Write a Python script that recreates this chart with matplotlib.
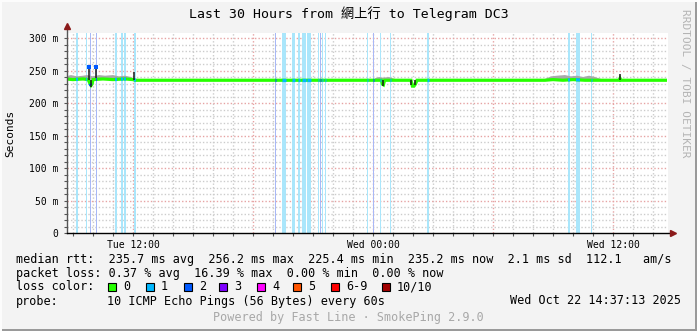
import numpy as np
import matplotlib.pyplot as plt
from matplotlib.patches import Rectangle

# time axis: hours since Tue 00:00, window = last 30 hours up to Wed 14:37
t_start, t_end = 8.70, 38.75
tick_hours = [12, 24, 36]
tick_labels = ["Tue 12:00", "Wed 00:00", "Wed 12:00"]

# median rtt (ms)
median_t = [8.65, 9.0, 9.5, 9.76, 9.86, 9.90, 9.95, 10.0, 10.5, 11.0, 11.6, 12.0,
            12.1, 12.2, 19.0, 24.42, 24.47, 24.52, 24.58, 25.9, 25.97, 26.05,
            26.12, 26.2, 32.6, 33.0, 33.5, 34.0, 34.6, 35.3, 36.3, 36.35, 36.4, 38.62]
median_ms = [237, 236, 237, 236, 229, 227, 229, 236, 237, 236, 237, 236,
             235, 235, 235, 235, 229, 228, 235, 235, 226, 226,
             229, 235, 235, 236, 235, 236, 235, 235, 235, 238, 235, 235]

# smoke (spread of the 10 pings)
smoke_t = [8.65, 8.9, 9.2, 9.5, 9.7, 10.0, 10.3, 10.6, 11.0, 11.3, 11.6, 11.9, 12.1,
           np.nan, 24.1, 24.3, 24.5, 24.8, 25.1,
           np.nan, 32.6, 32.9, 33.2, 33.6, 33.9, 34.2, 34.5, 34.8, 35.1, 35.4]
smoke_lo = [236, 236, 236, 236, 236, 236, 236, 236, 236, 236, 236, 236, 236,
            np.nan, 236, 236, 236, 236, 236,
            np.nan, 236, 236, 236, 236, 236, 236, 236, 236, 236, 236]
smoke_hi = [241, 243, 241, 242, 243, 241, 243, 242, 243, 241, 242, 240, 237,
            np.nan, 238, 240, 239, 240, 237,
            np.nan, 237, 241, 242, 243, 241, 242, 240, 242, 240, 237]

# single outlier pings drawn dark
spike_t = [9.79, 9.90, 10.15, 12.05, 24.50, 25.92, 26.12, 36.35]
spike_lo = [236, 225, 238, 236, 226, 227, 227, 235]
spike_hi = [256, 236, 256, 248, 236, 235, 235, 245]
spike_loss = [1, 0, 1, 0, 0, 0, 0, 0]

# packet loss events: start hour, end hour, lost pings out of 10
loss_t0 = [9.15, 9.65, 9.85, 10.15, 11.10, 11.40, 11.55, 12.05, 19.10, 19.45, 19.95,
           20.25, 20.45, 20.70, 21.25, 21.35, 21.45, 21.60, 23.70, 24.00, 24.35,
           24.85, 26.70, 33.75, 34.15, 34.90]
loss_t1 = [9.25, 9.70, 9.90, 10.20, 11.20, 11.50, 11.65, 12.15, 19.15, 19.65, 20.10,
           20.35, 20.65, 20.90, 21.30, 21.40, 21.50, 21.65, 23.75, 24.05, 24.40,
           24.90, 26.80, 33.85, 34.35, 34.95]
loss_n = [1, 1, 2, 2, 1, 1, 1, 1, 2, 1, 1,
          1, 1, 1, 1, 2, 1, 1, 1, 2, 1,
          1, 1, 1, 1, 1]

loss_names = ["0", "1", "2", "3", "4", "5", "6-9", "10/10"]
loss_colors = ["#26ff00", "#00b8ff", "#0059ff", "#7e00ff", "#ff00ff", "#ff5500", "#ff0000", "#a10000"]
loss_bg = {1: "#aae6fb", 2: "#a8b8f6"}

W, H = 697, 331
BG = "#f3f3f3"
MONO = "DejaVu Sans Mono"

fig = plt.figure(figsize=(W / 100, H / 100), dpi=100, facecolor=BG)


def fx(px):
    return px / W


def fy(py):
    return 1 - py / H


ax = fig.add_axes([fx(67), fy(233), (668 - 67) / W, 200 / H])
ax.set_facecolor("white")
ax.set_xlim(t_start, t_end)
ax.set_ylim(0, 307.7)

# grid
for h in np.arange(9, 39):
    major = (h % 6 == 0)
    ax.axvline(h, color="#e6a3a3" if major else "#cccccc", lw=1,
               ls=(0, (1, 1.5)), zorder=1)
for v in range(10, 310, 10):
    major = (v % 50 == 0)
    ax.axhline(v, color="#e6a3a3" if major else "#cccccc", lw=1,
               ls=(0, (1, 1.5)), zorder=1)

# loss background bars
for a, b, n in zip(loss_t0, loss_t1, loss_n):
    ax.axvspan(a, b, color=loss_bg[n], lw=0, zorder=2)

# smoke
ax.fill_between(smoke_t, smoke_lo, smoke_hi, color="#a9a9a9", lw=0, zorder=3)

# median line
ax.plot(median_t, median_ms, color=loss_colors[0], lw=2.3, zorder=5,
        solid_joinstyle="miter")
for a, b, n in zip(loss_t0, loss_t1, loss_n):
    y = np.interp([a, b], median_t, median_ms)
    ax.plot([a, b], y, color=loss_colors[n], lw=2.3, zorder=6,
            solid_capstyle="butt")

ax.vlines(spike_t, spike_lo, spike_hi, color="#1a1a1a", lw=1.1, zorder=7)
for st, sh, sl in zip(spike_t, spike_hi, spike_loss):
    if sl:
        ax.plot([st], [sh - 1], marker="s", ms=2.2, mew=0, color=loss_colors[2], zorder=8)

# axes look
for s in ax.spines.values():
    s.set_visible(False)
ax.plot([0, 0], [0, 1.03], transform=ax.transAxes, color="#555555", lw=1,
        clip_on=False, zorder=9)
ax.plot([0, 1.008], [0, 0], transform=ax.transAxes, color="black", lw=1,
        clip_on=False, zorder=9)
ax.plot([0], [1.035], transform=ax.transAxes, marker="^", ms=5, color="#8b1a1a",
        clip_on=False, zorder=10)
ax.plot([1.008], [0], transform=ax.transAxes, marker=">", ms=5, color="#8b1a1a",
        clip_on=False, zorder=10)

ax.set_yticks(range(0, 301, 50))
ax.set_yticklabels(["0"] + ["%d m" % v for v in range(50, 301, 50)],
                   fontsize=7, family=MONO)
ax.set_yticks(range(0, 301, 10), minor=True)
ax.set_xticks(tick_hours)
ax.set_xticklabels(tick_labels, fontsize=7, family=MONO)
ax.set_xticks(np.arange(9, 39), minor=True)
ax.tick_params(axis="both", which="both", length=2, width=0.8, color="#555555", pad=4)
ax.tick_params(axis="x", which="major", pad=3)

# title and labels
fig.text(fx(348.5), fy(14), "Last 30 Hours from 網上行 to Telegram DC3",
         ha="center", va="center", fontsize=9.5,
         family=[MONO, "Noto Sans CJK TC"])
fig.text(fx(10), fy(133), "Seconds", rotation=90, ha="center", va="center",
         fontsize=8, family=MONO)
fig.text(fx(685), fy(83), "RRDTOOL / TOBI OETIKER", rotation=270, ha="center",
         va="center", fontsize=8, family=MONO, color="#b4b4b4")

# legend
rows = [
    "median rtt:  235.7 ms avg  256.2 ms max  225.4 ms min  235.2 ms now  2.1 ms sd  112.1   am/s",
    "packet loss: 0.37 % avg  16.39 % max  0.00 % min  0.00 % now",
]
for i, r in enumerate(rows):
    fig.text(fx(16), fy(259 + 14 * i), r, ha="left", va="center", fontsize=8.5,
             family=MONO)

fig.text(fx(16), fy(287), "loss color:", ha="left", va="center", fontsize=8.5,
         family=MONO)
swatch_x = [108, 146, 184, 219, 257, 293, 331, 382]
for sx, name, c in zip(swatch_x, loss_names, loss_colors):
    fig.patches.append(Rectangle((fx(sx), fy(291)), 8 / W, 8 / H,
                                 transform=fig.transFigure, facecolor=c,
                                 edgecolor="black", lw=0.8))
    fig.text(fx(sx + 15), fy(287), name, ha="left", va="center", fontsize=8.5,
             family=MONO)

fig.text(fx(16), fy(301), "probe:", ha="left", va="center", fontsize=8.5, family=MONO)
fig.text(fx(107), fy(301), "10 ICMP Echo Pings (56 Bytes) every 60s", ha="left",
         va="center", fontsize=8.5, family=MONO)
fig.text(fx(681), fy(301), "Wed Oct 22 14:37:13 2025", ha="right", va="center",
         fontsize=8.5, family=MONO)
fig.text(fx(348.5), fy(318), "Powered by Fast Line · SmokePing 2.9.0", ha="center",
         va="center", fontsize=8.5, family=MONO, color="#a8a8a8")

# frame
fig.patches.append(Rectangle((fx(0), fy(331)), 1, 2 / H, transform=fig.transFigure,
                             facecolor="#9a9a9a", lw=0))
fig.patches.append(Rectangle((fx(695), 0), 2 / W, 1, transform=fig.transFigure,
                             facecolor="#9a9a9a", lw=0))
fig.patches.append(Rectangle((0, fy(2)), 1, 2 / H, transform=fig.transFigure,
                             facecolor="#fcfcfc", lw=0))
fig.patches.append(Rectangle((0, 0), 2 / W, 1, transform=fig.transFigure,
                             facecolor="#fcfcfc", lw=0))

fig.savefig("out.png", dpi=100, facecolor=BG)
